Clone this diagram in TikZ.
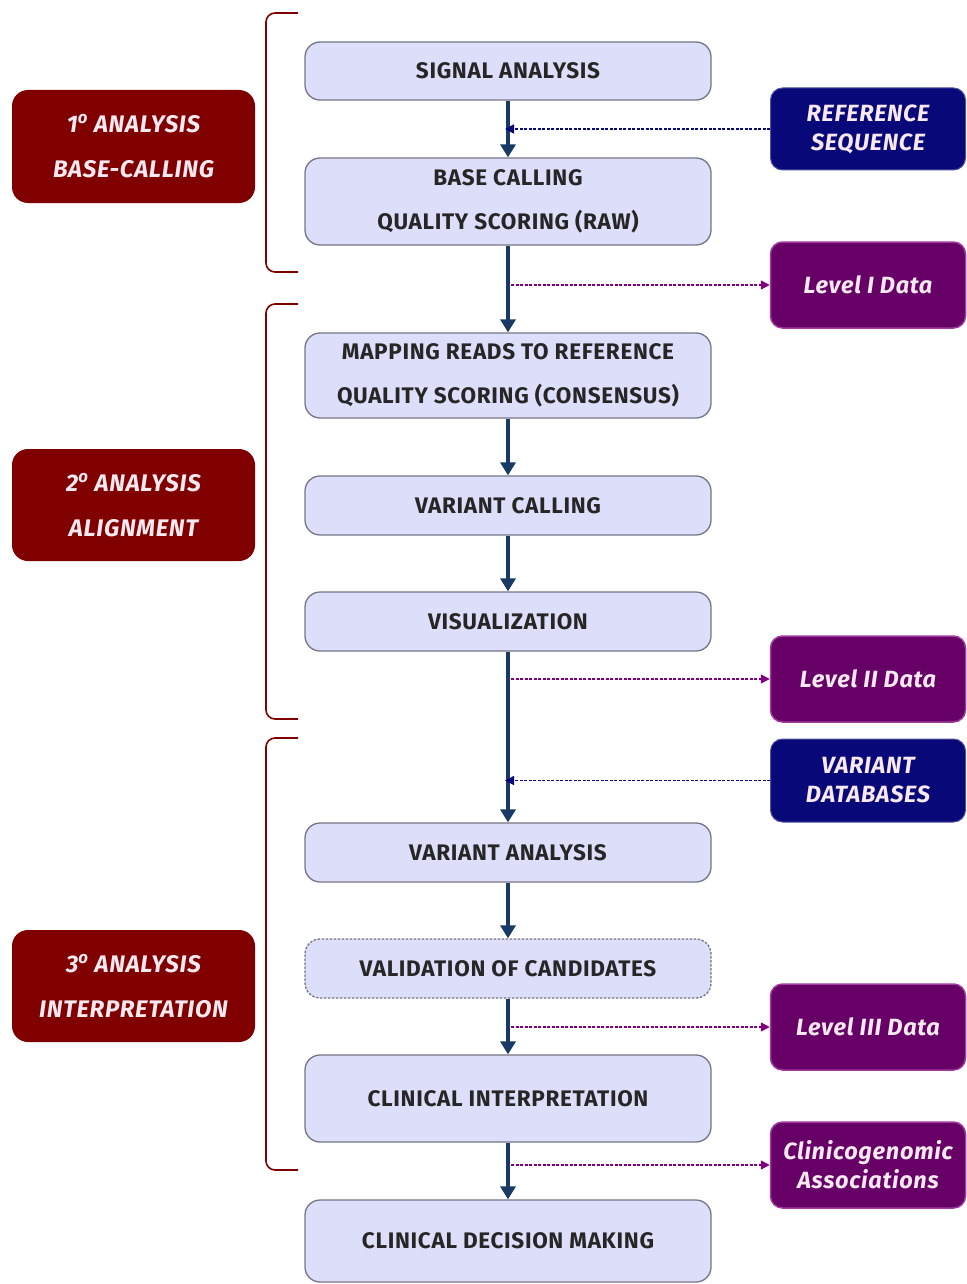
\documentclass[tikz,border=0pt]{standalone}
\usepackage{fontspec}
\setmainfont{Fira Sans}
\newfontfamily\widesans[LetterSpace=3]{Fira Sans}
\usetikzlibrary{arrows.meta}
\definecolor{stepfill}{RGB}{220,222,250}
\definecolor{stepline}{RGB}{118,118,135}
\definecolor{phasered}{RGB}{128,0,0}
\definecolor{refnavy}{RGB}{8,8,120}
\definecolor{datapurple}{RGB}{102,0,102}
\definecolor{dataedge}{RGB}{160,60,160}
\definecolor{flowblue}{RGB}{25,58,100}
\definecolor{dashpurple}{RGB}{128,0,128}
\definecolor{labeltext}{RGB}{248,232,240}
\newcommand{\ord}{\textsuperscript{o}}
\tikzset{
  stepbox/.style={draw=stepline, line width=1.3pt, fill=stepfill, rounded corners=15pt,
    minimum width=406pt, inner sep=0pt, align=center,
    font=\widesans\fontsize{22.5}{44}\selectfont\bfseries, text=black!85},
  phasebox/.style={fill=phasered, rounded corners=16pt, minimum width=243pt, inner sep=0pt,
    align=center, font=\widesans\fontsize{24}{45}\selectfont\bfseries\itshape, text=labeltext},
  navybox/.style={fill=refnavy, draw=refnavy!70, line width=1pt, rounded corners=12pt,
    minimum width=195pt, inner sep=0pt, align=center,
    font=\widesans\fontsize{23.5}{29}\selectfont\bfseries\itshape, text=labeltext},
  databox/.style={navybox, fill=datapurple, draw=dataedge, line width=1.5pt},
  flow/.style={draw=flowblue, line width=3.4pt, -{Triangle[length=13pt,width=15pt]}},
  feedin/.style={draw=refnavy, line width=1.5pt, dash pattern=on 3pt off 1.5pt,
    -{Triangle[length=9pt,width=9pt]}},
  feedout/.style={draw=dashpurple, line width=1.5pt, dash pattern=on 3pt off 1.5pt,
    -{Triangle[length=9pt,width=9pt]}},
  bracket/.style={draw=phasered, line width=1.6pt, rounded corners=9pt},
}
\begin{document}
\begin{tikzpicture}[x=1pt,y=-1pt]
\useasboundingbox[fill=white] (0,0) rectangle (966,1284);

% phase labels
\node[phasebox, minimum height=113pt] (p1) at (133.5,146.5) {1\ord{} ANALYSIS\\BASE-CALLING};
\node[phasebox, minimum height=112pt] (p2) at (133.5,505) {2\ord{} ANALYSIS\\ALIGNMENT};
\node[phasebox, minimum height=112pt] (p3) at (133.5,986) {3\ord{} ANALYSIS\\INTERPRETATION};

% phase brackets
\draw[bracket] (298,13) -- (266,13) -- (266,272) -- (298,272);
\draw[bracket] (298,304) -- (266,304) -- (266,719) -- (298,719);
\draw[bracket] (298,738) -- (266,738) -- (266,1170) -- (298,1170);

% pipeline steps
\node[stepbox, minimum height=58pt] (sig) at (508,71) {SIGNAL ANALYSIS};
\node[stepbox, minimum height=87pt] (base) at (508,201.5) {BASE CALLING\\QUALITY SCORING (RAW)};
\node[stepbox, minimum height=85pt] (map) at (508,375.5) {MAPPING READS TO REFERENCE\\QUALITY SCORING (CONSENSUS)};
\node[stepbox, minimum height=59pt] (vc) at (508,505.5) {VARIANT CALLING};
\node[stepbox, minimum height=59pt] (vis) at (508,621.5) {VISUALIZATION};
\node[stepbox, minimum height=59pt] (va) at (508,852.5) {VARIANT ANALYSIS};
\node[stepbox, minimum height=59pt, dashed, dash pattern=on 2.5pt off 1.5pt] (val) at (508,968.5) {VALIDATION OF CANDIDATES};
\node[stepbox, minimum height=87pt] (ci) at (508,1098.5) {CLINICAL INTERPRETATION};
\node[stepbox, minimum height=82pt] (cdm) at (508,1241) {CLINICAL DECISION MAKING};

% external inputs and outputs
\node[navybox, minimum height=82pt] (ref) at (868,129) {REFERENCE\\SEQUENCE};
\node[databox, minimum height=86pt] (l1) at (868,285) {Level I Data};
\node[databox, minimum height=86pt] (l2) at (868,679) {Level II Data};
\node[navybox, minimum height=83pt] (vdb) at (868,780.5) {VARIANT\\DATABASES};
\node[databox, minimum height=86pt] (l3) at (868,1027) {Level III Data};
\node[databox, minimum height=86pt] (cg) at (868,1165) {Clinicogenomic\\Associations};

% main flow
\draw[flow] (sig) -- (base);
\draw[flow] (base) -- (map);
\draw[flow] (map) -- (vc);
\draw[flow] (vc) -- (vis);
\draw[flow] (vis) -- (va);
\draw[flow] (va) -- (val);
\draw[flow] (val) -- (ci);
\draw[flow] (ci) -- (cdm);

% dashed inputs into the flow
\draw[feedin, shorten >=-3pt] (ref.west) -- (ref.west -| sig.south);
\draw[feedin, shorten >=-3pt] (vdb.west) -- (vdb.west -| vis.south);

% dashed outputs from the flow
\draw[feedout, shorten <=3pt] (l1.west -| base.south) -- (l1.west);
\draw[feedout, shorten <=3pt] (l2.west -| vis.south) -- (l2.west);
\draw[feedout, shorten <=3pt] (l3.west -| val.south) -- (l3.west);
\draw[feedout, shorten <=3pt] (cg.west -| ci.south) -- (cg.west);
\end{tikzpicture}
\end{document}
